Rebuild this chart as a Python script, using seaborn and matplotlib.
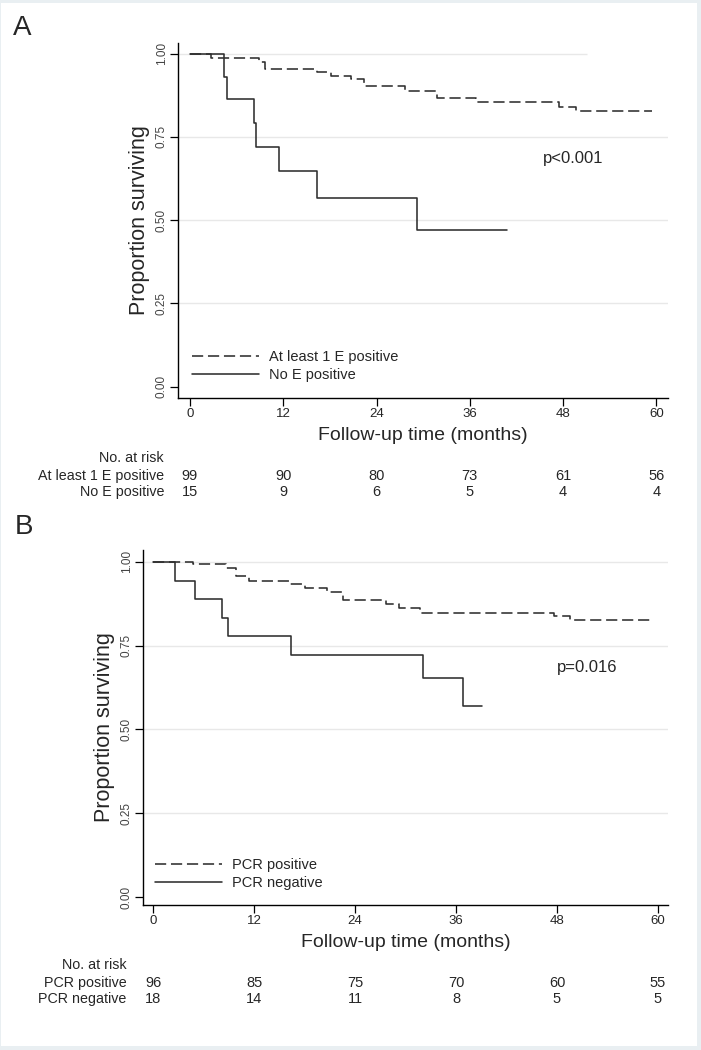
import matplotlib
matplotlib.use('Agg')
import matplotlib.pyplot as plt
import matplotlib.transforms as mtransforms
from matplotlib import font_manager
from matplotlib.patches import Rectangle
import pandas as pd
import seaborn as sns

# ---- data ----
# panel A
a_labels = ['At least 1 E positive', 'No E positive']
a_pos_t = [0, 2.7, 8.9, 9.6, 16.3, 18.1, 20.7, 22.4, 27.7, 31.8, 36.8, 47.5, 49.7, 59.5]
a_pos_s = [1.0, 0.987, 0.974, 0.955, 0.945, 0.933, 0.923, 0.902, 0.887, 0.867, 0.855, 0.840, 0.827, 0.827]
a_neg_t = [0, 4.4, 4.8, 8.2, 8.5, 11.4, 16.4, 29.2, 40.8]
a_neg_s = [1.0, 0.930, 0.863, 0.793, 0.720, 0.647, 0.568, 0.471, 0.471]
a_pval = 'p<0.001'
a_risk_pos = [99, 90, 80, 73, 61, 56]
a_risk_neg = [15, 9, 6, 5, 4, 4]

# panel B
b_labels = ['PCR positive', 'PCR negative']
b_pos_t = [0, 4.7, 8.6, 9.8, 11.4, 16.3, 18.0, 20.7, 22.6, 27.7, 29.2, 31.7, 47.6, 49.6, 59.5]
b_pos_s = [1.0, 0.992, 0.980, 0.958, 0.943, 0.933, 0.923, 0.910, 0.887, 0.873, 0.862, 0.848, 0.838, 0.825, 0.825]
b_neg_t = [0, 2.6, 4.9, 8.2, 8.9, 16.4, 32.1, 36.8, 39.1]
b_neg_s = [1.0, 0.944, 0.889, 0.833, 0.778, 0.722, 0.652, 0.571, 0.571]
b_pval = 'p=0.016'
b_risk_pos = [96, 85, 75, 70, 60, 55]
b_risk_neg = [18, 14, 11, 8, 5, 5]

risk_times = [0, 12, 24, 36, 48, 60]
y_ticks = [0.0, 0.25, 0.5, 0.75, 1.0]

sns.set_theme(style='white')
plt.rcParams['font.family'] = ['Liberation Sans', 'DejaVu Sans']
names = {f.name for f in font_manager.fontManager.ttflist}
narrow = 'Liberation Sans Narrow' if 'Liberation Sans Narrow' in names else 'Liberation Sans'

W, H = 701, 1050
fig = plt.figure(figsize=(W / 100, H / 100), dpi=100)
fig.patch.set_facecolor('#e9eff2')
fig.patches.append(Rectangle((1 / W, 4 / H), 696 / W, 1043 / H, transform=fig.transFigure,
                             facecolor='white', edgecolor='none', zorder=-1))

line_col = '#2e2e2e'


def panel(rect_px, xlim, ylim, labels, pos_t, pos_s, neg_t, neg_s, pval, pval_xy,
          risk_pos, risk_neg, label_x, rows_y, leg_anchor, top_grid_end, tag, tag_xy):
    l, t, r, b = rect_px
    ax = fig.add_axes([l / W, 1 - b / H, (r - l) / W, (b - t) / H])
    df = pd.concat([
        pd.DataFrame({'time': pos_t, 'surv': pos_s, 'group': labels[0]}),
        pd.DataFrame({'time': neg_t, 'surv': neg_s, 'group': labels[1]}),
    ])
    sns.lineplot(data=df, x='time', y='surv', style='group', style_order=labels,
                 dashes={labels[0]: (7, 3), labels[1]: ''}, color=line_col,
                 estimator=None, sort=False, drawstyle='steps-post', lw=1.15,
                 legend=False, ax=ax)
    ax.set_xlim(*xlim)
    ax.set_ylim(*ylim)
    # light grid like Stata
    ax.hlines([0.25, 0.5, 0.75], xlim[0], xlim[1], color='#e8e8e8', lw=1, zorder=0)
    ax.hlines([1.0], xlim[0], top_grid_end, color='#e8e8e8', lw=1, zorder=0)

    for s in ['top', 'right']:
        ax.spines[s].set_visible(False)
    for s in ['left', 'bottom']:
        ax.spines[s].set_color('black')
        ax.spines[s].set_linewidth(1.0)
    ax.set_xticks(risk_times)
    ax.set_yticks(y_ticks)
    ax.set_yticklabels([f'{v:.2f}' for v in y_ticks], rotation=90, va='center',
                       fontsize=8.5, color='#444444')
    ax.set_xticklabels([str(v) for v in risk_times], fontsize=9.5, family=narrow)
    ax.tick_params(axis='both', direction='out', length=5.5, width=0.9, color='black',
                   left=True, bottom=True, pad=2)

    ax.set_ylabel('Proportion surviving', fontsize=15.5)
    ax.yaxis.set_label_coords(label_x, 0.5)
    ax.yaxis.label.set_va('center')
    ax.set_xlabel('Follow-up time (months)', fontsize=14, family=narrow)
    ax.xaxis.set_label_coords(0.5, -0.107)
    ax.xaxis.label.set_va('center')

    ax.text(pval_xy[0], pval_xy[1], pval, fontsize=12, ha='center', va='center')

    h = ax.get_lines()[:2]
    ax.legend(h, labels, loc='lower left', bbox_to_anchor=leg_anchor, frameon=False,
              fontsize=10.5, handlelength=4.6, handletextpad=0.7, labelspacing=0.3,
              borderpad=0, borderaxespad=0)

    tr = mtransforms.blended_transform_factory(ax.transData, fig.transFigure)
    lab_x, y0, y1, y2 = rows_y
    fig.text(lab_x / W, 1 - y0 / H, 'No. at risk', ha='right', va='center',
             fontsize=10.3, family=narrow)
    for yy, name, vals in [(y1, labels[0], risk_pos), (y2, labels[1], risk_neg)]:
        fig.text(lab_x / W, 1 - yy / H, name, ha='right', va='center',
                 fontsize=10.3, family=narrow)
        for tt, v in zip(risk_times, vals):
            ax.text(tt, 1 - yy / H, str(v), transform=tr, ha='center', va='center',
                    fontsize=10.5, family=narrow)
    fig.text(tag_xy[0] / W, 1 - tag_xy[1] / H, tag, fontsize=20, ha='center', va='center')
    return ax


panel((178, 43, 668, 398), (-1.54, 61.5), (-0.034, 1.032), a_labels,
      a_pos_t, a_pos_s, a_neg_t, a_neg_s, a_pval, (49.3, 0.686),
      a_risk_pos, a_risk_neg, -0.0776, (164, 458, 476, 492), (0.028, 0.045), 51.1,
      'A', (22, 28))

panel((143, 550, 668, 905), (-1.23, 61.2), (-0.024, 1.035), b_labels,
      b_pos_t, b_pos_s, b_neg_t, b_neg_s, b_pval, (51.6, 0.684),
      b_risk_pos, b_risk_neg, -0.0724, (126.5, 965, 983, 999), (0.023, 0.042), 61.2,
      'B', (24, 527))

fig.savefig('out.png', dpi=100, facecolor=fig.get_facecolor())
